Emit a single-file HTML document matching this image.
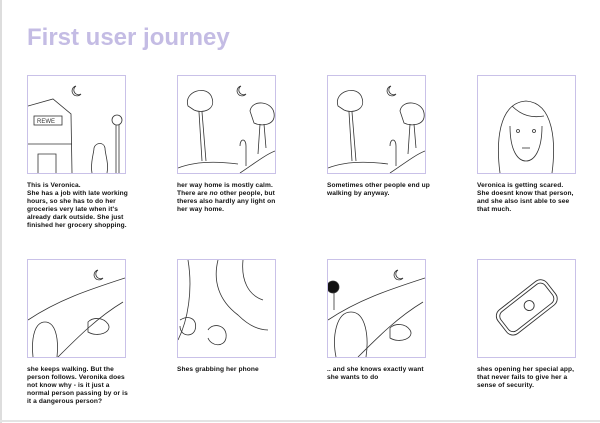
<!DOCTYPE html>
<html><head><meta charset="utf-8"><style>
body{margin:0;width:600px;height:423px;background:#fff;position:relative;overflow:hidden;font-family:"Liberation Sans",sans-serif}
.t{position:absolute;left:27px;top:24px;font-size:24px;font-weight:bold;color:#c4bce4;letter-spacing:0px}
.p{position:absolute;width:97px;height:97px;border:1.5px solid #c9c1e8;background:#fff}
.p svg{width:97px;height:97px;display:block}
.c{position:absolute;width:105px;font-size:6.6px;line-height:8px;color:#111;font-weight:bold;letter-spacing:0.1px}
</style></head><body>
<div style="position:absolute;left:0;top:0;width:2px;height:423px;background:#ddd"></div>
<div style="position:absolute;left:0;top:420px;width:600px;height:2px;background:#e4e4e4"></div>
<div class="t">First user journey</div>

<div class="p" style="left:27px;top:75px"><svg viewBox="0 0 97 97" fill="none" stroke="#333" stroke-width="0.8">
<path d="M0 30 L25 23 L43 38 L44 97 M0 68 L44 68 M10 97 L10 78 L28 78 L28 97"/><rect x="6" y="40" width="28" height="9"/>
<text x="9" y="47" font-size="6" fill="#333" stroke="none">REWE</text>
<circle cx="89" cy="44" r="5"/><path d="M88 49 L88 97 M91 49 L91 97"/>
<path d="M48 10 a5 5 0 1 0 5 8 a4 4 0 1 1 -5 -8"/>
<path d="M64 97 c-2-10 2-20 2-25 c2-6 10-6 11 0 c0 6 4 15 2 25"/></svg></div>
<div class="c" style="left:27px;top:182px">This is Veronica.<br>She has a job with late working hours, so she has to do her groceries very late when it's already dark outside. She just finished her grocery shopping.</div>

<div class="p" style="left:177px;top:75px"><svg viewBox="0 0 97 97" fill="none" stroke="#333" stroke-width="0.8">
<path d="M10 30 c-5-15 20-22 24-8 c4 12-10 16-18 12 z"/><path d="M21 36 L24 85 M24 36 L28 85"/>
<path d="M72 35 c2-12 22-10 24 2 c2 12-12 14-20 10 z"/><path d="M82 48 L80 78 M86 48 L88 72"/>
<path d="M0 92 c20-8 45-6 60-4 M62 97 c15-10 25-18 35-22"/>
<path d="M63 10 a5 5 0 1 0 5 8 a4 4 0 1 1 -5 -8"/>
<path d="M62 70 c0-8 6-8 6 0 l0 20"/></svg></div>
<div class="c" style="left:177px;top:182px">her way home is mostly calm. There are <i>no</i> other people, but theres also hardly any light on her way home.</div>

<div class="p" style="left:327px;top:75px"><svg viewBox="0 0 97 97" fill="none" stroke="#333" stroke-width="0.8">
<path d="M10 30 c-5-15 20-22 24-8 c4 12-10 16-18 12 z"/><path d="M21 36 L24 85 M24 36 L28 85"/>
<path d="M72 35 c2-12 22-10 24 2 c2 12-12 14-20 10 z"/><path d="M82 48 L80 78 M86 48 L88 72"/>
<path d="M0 92 c20-8 45-6 60-4 M62 97 c15-10 25-18 35-22"/>
<path d="M63 10 a5 5 0 1 0 5 8 a4 4 0 1 1 -5 -8"/>
<path d="M62 70 c0-8 6-8 6 0 l0 20"/></svg></div>
<div class="c" style="left:327px;top:182px">Sometimes other people end up walking by anyway.</div>

<div class="p" style="left:477px;top:75px"><svg viewBox="0 0 97 97" fill="none" stroke="#333" stroke-width="0.8">
<path d="M22 97 c-4-30-2-70 26-72 c28 2 30 42 26 72"/><path d="M32 50 c0 25 8 35 16 35 c8 0 16-10 16-35"/>
<path d="M34 30 c10 10 20 12 32 10"/><circle cx="40" cy="55" r="1.5"/><circle cx="56" cy="55" r="1.5"/><path d="M44 72 l8 0"/></svg></div>
<div class="c" style="left:477px;top:182px;width:98px">Veronica is getting scared. She doesnt know that person, and she also isnt able to see that much.</div>

<div class="p" style="left:27px;top:259px"><svg viewBox="0 0 97 97" fill="none" stroke="#333" stroke-width="0.8">
<path d="M0 60 c30-20 60-30 97-42 M30 97 c20-20 40-40 65-55"/>
<path d="M5 97 c-2-20 2-35 12-35 c10 0 14 15 12 35"/><path d="M60 62 c5-5 15-5 20 2 c5 8-10 14-20 8 z"/>
<path d="M70 10 a5 5 0 1 0 5 8 a4 4 0 1 1 -5 -8"/></svg></div>
<div class="c" style="left:27px;top:366px">she keeps walking. But the person follows. Veronika does not know why - is it just a normal person passing by or is it a dangerous person?</div>

<div class="p" style="left:177px;top:259px"><svg viewBox="0 0 97 97" fill="none" stroke="#333" stroke-width="0.8">
<path d="M10 0 c5 30 0 60 -10 80 M40 0 c-5 20 0 40 20 55 c10 10 20 15 30 15 M65 0 c-2 20 5 35 20 40"/>
<path d="M2 60 c10-6 18 0 15 10 c-3 8-15 6-15-4"/><path d="M30 70 c5-8 20-5 18 8 c-2 10-15 8-18 0"/></svg></div>
<div class="c" style="left:177px;top:366px">Shes grabbing her phone</div>

<div class="p" style="left:327px;top:259px"><svg viewBox="0 0 97 97" fill="none" stroke="#333" stroke-width="0.8">
<circle cx="5" cy="27" r="6" fill="#111"/><path d="M6 32 L6 50"/>
<path d="M0 60 c30-20 60-30 97-42 M30 97 c20-20 40-40 65-55"/>
<path d="M8 97 c-4-20 0-45 15-45 c15 0 18 25 15 45"/><path d="M62 68 c5-5 15-5 20 2 c5 8-10 14-20 8 z"/>
<path d="M70 10 a5 5 0 1 0 5 8 a4 4 0 1 1 -5 -8"/></svg></div>
<div class="c" style="left:327px;top:366px">.. and she knows exactly want she wants to do</div>

<div class="p" style="left:477px;top:259px"><svg viewBox="0 0 97 97" fill="none" stroke="#333" stroke-width="0.9">
<g transform="rotate(-38 48 48)"><rect x="18" y="33" width="62" height="30" rx="8"/><rect x="21" y="36" width="56" height="24" rx="6"/><circle cx="52" cy="48" r="5"/></g></svg></div>
<div class="c" style="left:477px;top:366px">shes opening her special app, that never fails to give her a sense of security.</div>
</body></html>
